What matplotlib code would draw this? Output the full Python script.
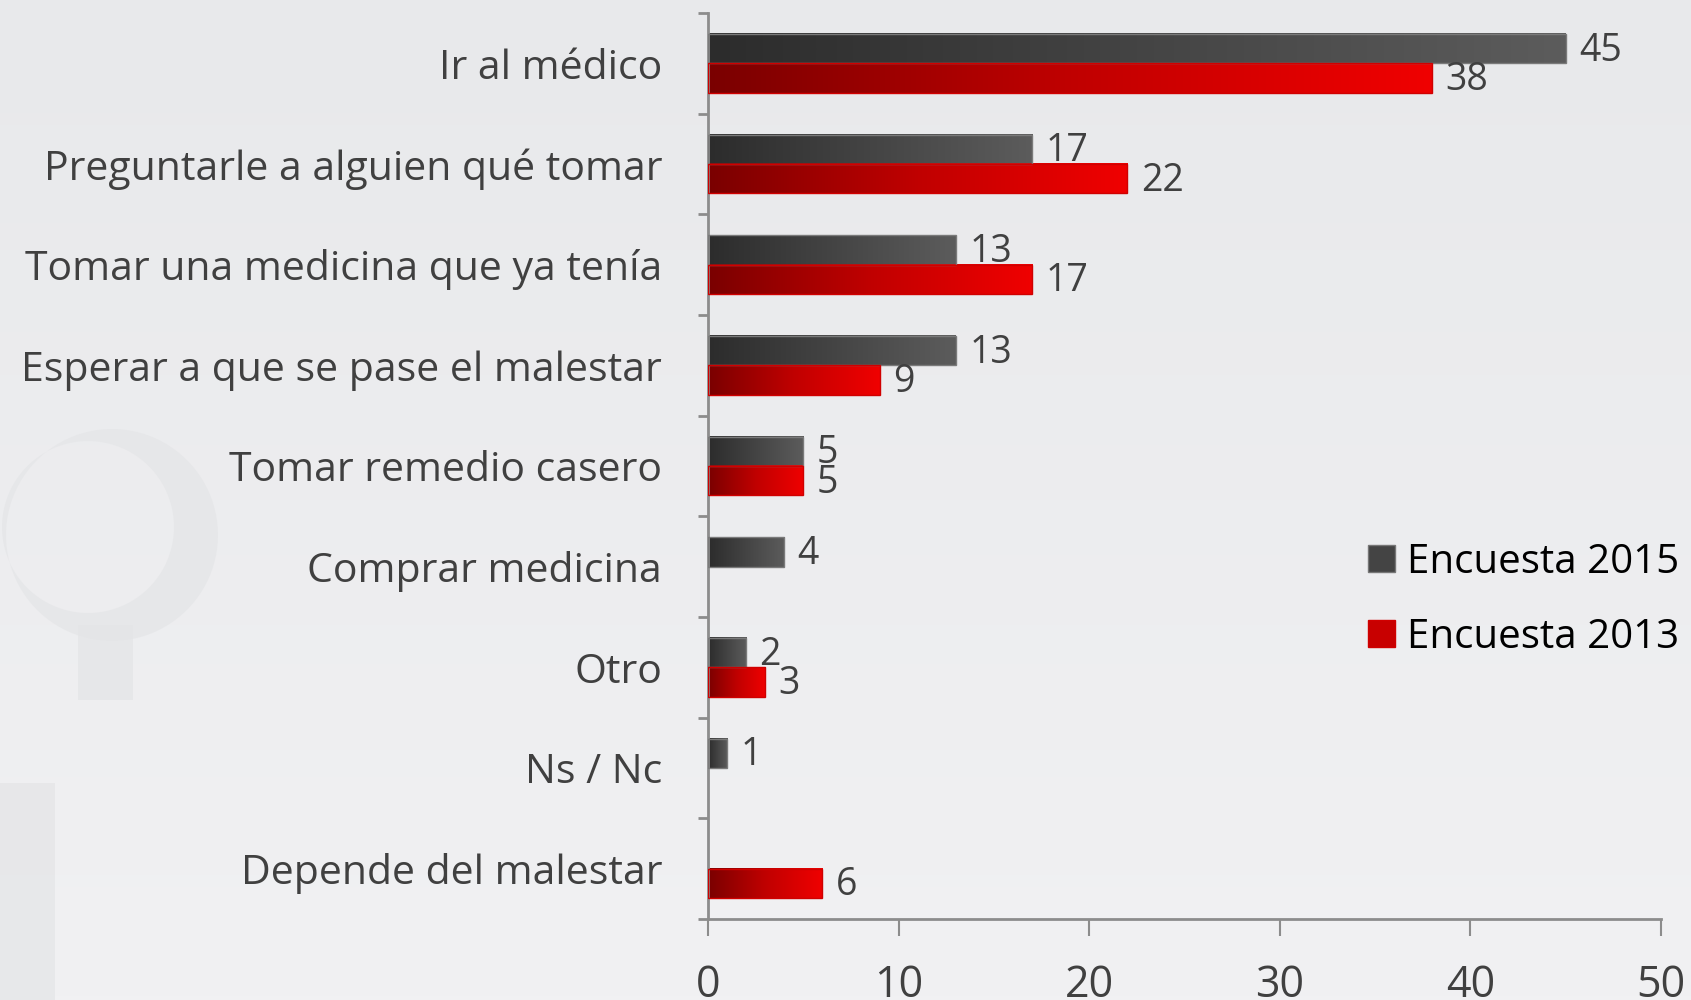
import numpy as np
import matplotlib
matplotlib.use('Agg')
import matplotlib.pyplot as plt
from matplotlib.colors import LinearSegmentedColormap
from matplotlib.patches import Rectangle, PathPatch
from matplotlib.path import Path

# data
categories = ['Ir al médico', 'Preguntarle a alguien qué tomar',
              'Tomar una medicina que ya tenía', 'Esperar a que se pase el malestar',
              'Tomar remedio casero', 'Comprar medicina', 'Otro', 'Ns / Nc',
              'Depende del malestar']
enc_2015 = [45, 17, 13, 13, 5, 4, 2, 1, None]
enc_2013 = [38, 22, 17, 9, 5, None, 3, None, 6]
series_names = ['Encuesta 2015', 'Encuesta 2013']
x_ticks = [0, 10, 20, 30, 40, 50]

FONT = 'Open Sans'
TXT = '#404040'

dark_cmap = LinearSegmentedColormap.from_list('dk', ['#2c2c2c', '#5c5c5c'])
red_cmap = LinearSegmentedColormap.from_list('rd', ['#7a0000', '#c00000', '#f00000'])

fig = plt.figure(figsize=(16.91, 10), dpi=100)

# background gradient + faint watermark
bg = fig.add_axes([0, 0, 1, 1], zorder=-10)
grad = np.linspace(0, 1, 256).reshape(-1, 1)
bg.imshow(grad, aspect='auto', extent=[0, 1691, 1000, 0],
          cmap=LinearSegmentedColormap.from_list('bg', ['#e8e9eb', '#f1f1f3']))
bg.set_xlim(0, 1691)
bg.set_ylim(1000, 0)
bg.axis('off')

def circle_path(cx, cy, r, reverse=False):
    t = np.linspace(0, 2 * np.pi, 100)
    if reverse:
        t = t[::-1]
    verts = np.column_stack([cx + r * np.cos(t), cy + r * np.sin(t)])
    codes = [Path.MOVETO] + [Path.LINETO] * 98 + [Path.CLOSEPOLY]
    return verts, codes

WM = '#e4e5e7'
v1, c1 = circle_path(112, 535, 106)
v2, c2 = circle_path(88, 527, 86, reverse=True)
ring = Path(np.vstack([v1, v2]), c1 + c2)
bg.add_patch(PathPatch(ring, facecolor=WM, edgecolor='none', alpha=0.7))
bg.add_patch(Rectangle((78, 625), 55, 75, facecolor=WM, edgecolor='none', alpha=0.7))
bg.add_patch(Rectangle((0, 783), 55, 217, facecolor=WM, edgecolor='none', alpha=0.7))

ax = fig.add_axes([708 / 1691, 81 / 1000, 953 / 1691, 906 / 1000])
ax.patch.set_alpha(0)

y = np.arange(len(categories))
h = 0.29

def draw_series(vals, offset, cmap, edge):
    for i, v in enumerate(vals):
        if v is None:
            continue
        yc = y[i] + offset
        ax.imshow(np.linspace(0, 1, 256).reshape(1, -1), cmap=cmap, aspect='auto',
                  extent=[0, v, yc + h / 2, yc - h / 2], zorder=2, interpolation='bilinear')
        ax.barh(yc, v, height=h, facecolor='none', edgecolor=edge, linewidth=1, zorder=3)
        ax.text(v + 0.7, yc + 0.02, str(v), va='center', ha='left', fontsize=27,
                color=TXT, family=FONT, zorder=4)

draw_series(enc_2015, -h / 2, dark_cmap, '#7a7a7a')
draw_series(enc_2013, h / 2, red_cmap, '#d00000')

ax.set_xlim(0, 50)
ax.set_ylim(len(categories) - 0.5, -0.5)
ax.set_xticks(x_ticks)
ax.set_xticklabels([str(t) for t in x_ticks], fontsize=31, color=TXT, family=FONT)
ax.set_yticks(y)
ax.set_yticklabels(categories, fontsize=29.5, color=TXT, family=FONT)
ax.set_yticks(np.arange(-0.5, len(categories)), minor=True)
ax.tick_params(axis='y', which='major', length=0, pad=33)
ax.tick_params(axis='y', which='minor', length=7, width=2, color='#8c8c8c', direction='out')
ax.tick_params(axis='x', length=12, width=1.5, color='#8c8c8c', direction='out', pad=20)

for s in ['top', 'right']:
    ax.spines[s].set_visible(False)
for s in ['left', 'bottom']:
    ax.spines[s].set_color('#8c8c8c')
    ax.spines[s].set_linewidth(2)

# legend
handles = [Rectangle((0, 0), 1, 1, facecolor='#444444', edgecolor='#777777'),
           Rectangle((0, 0), 1, 1, facecolor='#c80000', edgecolor='#d00000')]
leg = ax.legend(handles, series_names, loc='center left', bbox_to_anchor=(0.655, 0.352),
                frameon=False, prop={'family': FONT, 'size': 29},
                handlelength=0.65, handleheight=0.65, handletextpad=0.3, labelspacing=0.85)
for t in leg.get_texts():
    t.set_color('black')

fig.savefig('out.png', dpi=100)
